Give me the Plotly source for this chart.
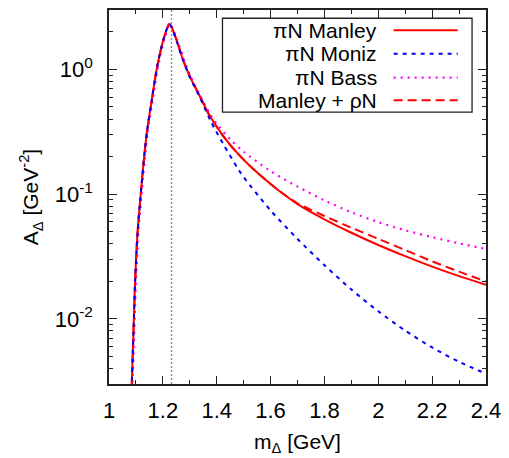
import plotly.graph_objects as go

# ---------------- data ----------------
M_DELTA = 1.232

manley_x = [1.084, 1.085, 1.091, 1.097, 1.106, 1.116, 1.128, 1.140, 1.159, 1.177, 1.2016, 1.2237,
            1.232, 1.251, 1.2754, 1.300, 1.337, 1.374, 1.423, 1.4725, 1.5216, 1.600, 1.650, 1.700,
            1.800, 1.900, 2.000, 2.100, 2.200, 2.300, 2.400]
manley_y = [0.0027, 0.0032, 0.0079, 0.020, 0.049, 0.090, 0.175, 0.305, 0.57, 1.0, 1.72, 2.32,
            2.20, 1.72, 1.19, 0.88, 0.612, 0.425, 0.295, 0.218, 0.170, 0.1208, 0.0993, 0.0832,
            0.0628, 0.0490, 0.0391, 0.0318, 0.0262, 0.0220, 0.01875]

moniz_x = [1.084, 1.085, 1.091, 1.097, 1.106, 1.116, 1.128, 1.140, 1.159, 1.177, 1.2016, 1.2237,
           1.232, 1.251, 1.2754, 1.300, 1.337, 1.380, 1.423, 1.478, 1.500, 1.600, 1.700, 1.800,
           1.900, 2.000, 2.100, 2.200, 2.300, 2.400]
moniz_y = [0.0027, 0.0032, 0.0079, 0.020, 0.049, 0.090, 0.175, 0.305, 0.57, 1.0, 1.72, 2.30,
           2.18, 1.70, 1.18, 0.87, 0.60, 0.376, 0.255, 0.161, 0.137, 0.0741, 0.0437, 0.0269,
           0.01718, 0.01148, 0.00804, 0.00589, 0.00452, 0.00363]

bass_x = [1.087, 1.088, 1.094, 1.100, 1.109, 1.119, 1.131, 1.143, 1.162, 1.180, 1.2046, 1.2257,
          1.234, 1.253, 1.278, 1.300, 1.337, 1.374, 1.400, 1.450, 1.500, 1.600, 1.700, 1.800,
          1.900, 2.000, 2.100, 2.200, 2.300, 2.400]
bass_y = [0.0027, 0.0032, 0.0079, 0.020, 0.049, 0.090, 0.175, 0.305, 0.57, 1.0, 1.72, 2.30,
          2.20, 1.72, 1.22, 0.912, 0.624, 0.442, 0.367, 0.275, 0.219, 0.153, 0.115, 0.0891,
          0.0716, 0.0596, 0.0513, 0.0452, 0.0403, 0.0363]

rho_x = [1.084, 1.085, 1.091, 1.097, 1.106, 1.116, 1.128, 1.140, 1.159, 1.177, 1.2016, 1.2237,
         1.232, 1.251, 1.2754, 1.300, 1.337, 1.374, 1.423, 1.4725, 1.5216, 1.600, 1.650, 1.700,
         1.800, 1.900, 2.000, 2.100, 2.200, 2.300, 2.400]
rho_y = [0.0027, 0.0032, 0.0079, 0.020, 0.049, 0.090, 0.175, 0.305, 0.57, 1.0, 1.72, 2.32,
         2.20, 1.72, 1.19, 0.88, 0.612, 0.425, 0.295, 0.218, 0.170, 0.1208, 0.0995, 0.0845,
         0.0668, 0.0538, 0.0438, 0.0356, 0.0289, 0.0239, 0.0199]

legend_labels = ["\u03c0N Manley", "\u03c0N Moniz", "\u03c0N Bass", "Manley + \u03c1N"]

x_tickvals = [1, 1.2, 1.4, 1.6, 1.8, 2, 2.2, 2.4]
x_ticktext = ["1", "1.2", "1.4", "1.6", "1.8", "2", "2.2", "2.4"]
x_minor = [1.1, 1.3, 1.5, 1.7, 1.9, 2.1, 2.3]
y_tickvals = [0.01, 0.1, 1]
y_ticktext = ["10<sup>-2</sup>", "10<sup>-1</sup>", "10<sup>0</sup>"]
y_minor = [m * 10 ** e for e in (-3, -2, -1, 0) for m in range(2, 10)]

# ---------------- styles ----------------
colors = ["#ff0000", "#0000ff", "#ff00ff", "#ff0000"]
dashes = ["solid", "4px,5px", "2px,5px", "9px,5px"]
widths = [2, 2, 2.2, 2]
FONT = "Liberation Sans, Arial, sans-serif"

fig = go.Figure()
series = [(manley_x, manley_y), (moniz_x, moniz_y), (bass_x, bass_y), (rho_x, rho_y)]
order = [2, 3, 0, 1]
for i in order:
    xs, ys = series[i]
    fig.add_trace(go.Scatter(x=xs, y=ys, mode="lines", name=legend_labels[i], showlegend=False,
                             line=dict(color=colors[i], dash=dashes[i], width=widths[i], shape="spline",
                                       smoothing=0.8)))

# vertical dotted line at Delta mass
fig.add_shape(type="line", xref="x", yref="paper", x0=M_DELTA, x1=M_DELTA, y0=0, y1=1,
              line=dict(color="#888888", width=1.3, dash="2px,2px"), layer="below")

# manual legend (text left of sample)
box = dict(x0=0.301, x1=0.963, y0=0.727, y1=0.978)
fig.add_shape(type="rect", xref="paper", yref="paper", **box,
              line=dict(color="#222222", width=1.3), fillcolor="white", layer="above")
rows = [0.946, 0.883, 0.819, 0.759]
for i, lab in enumerate(legend_labels):
    fig.add_annotation(x=0.717, y=rows[i], xref="paper", yref="paper", text=lab, showarrow=False,
                       xanchor="right", yanchor="middle", font=dict(size=21, color="black", family=FONT))
    fig.add_shape(type="line", xref="paper", yref="paper", x0=0.755, x1=0.925, y0=rows[i], y1=rows[i],
                  line=dict(color=colors[i], dash=dashes[i], width=widths[i]), layer="above")

axis_common = dict(showline=True, linecolor="#222222", linewidth=1.5, mirror="ticks", ticks="inside",
                   showgrid=False, zeroline=False, tickcolor="#222222",
                   tickfont=dict(size=22, color="black", family=FONT))

fig.update_xaxes(range=[1, 2.4], tickvals=x_tickvals, ticktext=x_ticktext, ticklen=8, tickwidth=1.3,
                 ticklabelstandoff=6,
                 minor=dict(tickvals=x_minor, ticks="inside", ticklen=4, tickcolor="#222222", tickwidth=1.3),
                 title=dict(text="m<sub>\u0394</sub> [GeV]", font=dict(size=21, color="black", family=FONT),
                            standoff=12),
                 **axis_common)
fig.update_yaxes(type="log", range=[-2.523, 0.477], tickvals=y_tickvals, ticktext=y_ticktext, ticklen=8,
                 tickwidth=1.3, ticklabelstandoff=10,
                 minor=dict(tickvals=y_minor, ticks="inside", ticklen=4, tickcolor="#222222", tickwidth=1.3),
                 title=dict(text="A<sub>\u0394</sub> [GeV<sup>-2</sup>]",
                            font=dict(size=21, color="black", family=FONT), standoff=10),
                 **axis_common)

fig.update_layout(width=509, height=458, margin=dict(l=109, r=21, t=8, b=71),
                  plot_bgcolor="white", paper_bgcolor="white", showlegend=False)

fig.write_html("out.html")
